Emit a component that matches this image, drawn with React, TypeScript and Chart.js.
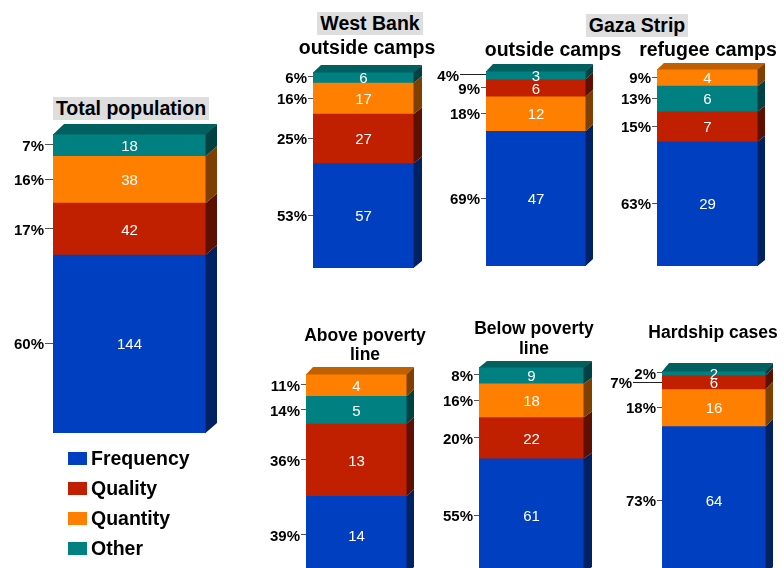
import React, { useEffect, useRef } from "react";
import { Chart, registerables } from "chart.js";

Chart.register(...registerables);

// ---------- data ----------
const seriesNames = ["Frequency", "Quality", "Quantity", "Other"];
// values in series order: Frequency, Quality, Quantity, Other
const totalPopulation = [144, 42, 38, 18];
const westBankOutsideCamps = [57, 27, 17, 6];
const gazaOutsideCamps = [47, 6, 12, 3];
const gazaRefugeeCamps = [29, 7, 4, 6];
const abovePovertyLine = [14, 13, 4, 5];
const belowPovertyLine = [61, 22, 18, 9];
const hardshipCases = [64, 6, 16, 2];

// ---------- styles ----------
const FRONT = ["#0040C0", "#C02000", "#FF8000", "#008080"];
const SIDE = ["#002262", "#5E1000", "#7E3F00", "#004242"];
const TOP = ["#0032A0", "#902000", "#C06000", "#006060"];
const FONT = "'Liberation Sans', Arial, Helvetica, sans-serif";

const W = 784;
const H = 568;
const CH = 600;

type Panel = {
  values: number[];
  left: number;
  right: number;
  top: number;
  bottom: number;
  dx: number;
  dy: number;
  tick: number;
  shift?: Record<number, number>;
};

const panels: Panel[] = [
  { values: totalPopulation, left: 53, right: 206, top: 134, bottom: 433, dx: 11, dy: 10, tick: 9 },
  { values: westBankOutsideCamps, left: 313, right: 414, top: 72, bottom: 268, dx: 8, dy: 7, tick: 6 },
  { values: gazaOutsideCamps, left: 486, right: 586, top: 71, bottom: 266, dx: 7, dy: 7, tick: 6, shift: { 3: 21 } },
  { values: gazaRefugeeCamps, left: 657, right: 758, top: 69, bottom: 266, dx: 7, dy: 6, tick: 6 },
  { values: abovePovertyLine, left: 306, right: 407, top: 374, bottom: 574, dx: 7, dy: 7, tick: 6 },
  { values: belowPovertyLine, left: 479, right: 584, top: 367, bottom: 573, dx: 8, dy: 6, tick: 6 },
  { values: hardshipCases, left: 662, right: 766, top: 371, bottom: 575, dx: 7, dy: 8, tick: 6, shift: { 1: 24 } },
];

type TitleLine = { text: string; cx: number; cy: number; size: number; bg?: boolean };
const titles: TitleLine[] = [
  { text: "Total population", cx: 131, cy: 108, size: 19.5, bg: true },
  { text: "West Bank", cx: 370, cy: 23, size: 19.5, bg: true },
  { text: "outside camps", cx: 367, cy: 47, size: 19.5 },
  { text: "Gaza Strip", cx: 637, cy: 25, size: 19.5, bg: true },
  { text: "outside camps", cx: 553, cy: 49, size: 19.5 },
  { text: "refugee camps", cx: 708, cy: 49, size: 19.5 },
  { text: "Above poverty", cx: 365, cy: 334.5, size: 17.5 },
  { text: "line", cx: 365, cy: 354, size: 17.5 },
  { text: "Below poverty", cx: 534, cy: 327.5, size: 17.5 },
  { text: "line", cx: 534, cy: 347.5, size: 17.5 },
  { text: "Hardship cases", cx: 713, cy: 331.5, size: 17.5 },
];

function sortedOrder(values: number[]): number[] {
  return values.map((_, i) => i).sort((a, b) => values[b] - values[a]);
}

function makeBar3d(panel: Panel, order: number[]) {
  return {
    id: "bar3d",
    afterDatasetsDraw(chart: any) {
      const ctx: CanvasRenderingContext2D = chart.ctx;
      const { dx, dy, tick } = panel;
      const shift = panel.shift || {};
      const total = panel.values.reduce((a, b) => a + b, 0);
      const n = chart.data.datasets.length;
      const boxes: any[] = [];
      ctx.save();
      for (let k = 0; k < n; k++) {
        const el = chart.getDatasetMeta(k).data[0];
        const p = el.getProps(["x", "y", "base", "width"], true);
        const left = p.x - p.width / 2;
        const right = p.x + p.width / 2;
        const top = Math.min(p.y, p.base);
        const bottom = Math.max(p.y, p.base);
        const s = order[k];
        boxes.push({ left, right, top, bottom, s });
        ctx.fillStyle = SIDE[s];
        ctx.beginPath();
        ctx.moveTo(right - 0.5, top);
        ctx.lineTo(right + dx, top - dy);
        ctx.lineTo(right + dx, bottom - dy);
        ctx.lineTo(right - 0.5, bottom);
        ctx.closePath();
        ctx.fill();
        if (k === n - 1) {
          ctx.fillStyle = TOP[s];
          ctx.beginPath();
          ctx.moveTo(left, top + 0.5);
          ctx.lineTo(left + dx, top - dy);
          ctx.lineTo(right + dx, top - dy);
          ctx.lineTo(right, top + 0.5);
          ctx.closePath();
          ctx.fill();
        }
      }
      // labels
      for (const b of boxes) {
        const cy = (b.top + b.bottom) / 2;
        const v = panel.values[b.s];
        ctx.fillStyle = "#ffffff";
        ctx.font = `15px ${FONT}`;
        ctx.textAlign = "center";
        ctx.textBaseline = "alphabetic";
        ctx.fillText(String(v), (b.left + b.right) / 2, cy + 5.4);

        const pct = Math.round((v / total) * 100) + "%";
        const off = shift[b.s] || 0;
        const tx = b.left - tick - off;
        ctx.fillStyle = "#000000";
        ctx.font = `bold 15px ${FONT}`;
        ctx.textAlign = "right";
        ctx.fillText(pct, tx, cy + 5.4);
        ctx.strokeStyle = off ? "#222222" : "#555555";
        ctx.lineWidth = 1;
        const ly = Math.round(cy) - 0.5;
        ctx.beginPath();
        ctx.moveTo(tx + 1, ly);
        ctx.lineTo(b.left, ly);
        ctx.stroke();
      }
      ctx.restore();
    },
  };
}

function PanelChart({ panel }: { panel: Panel }) {
  const ref = useRef<HTMLCanvasElement | null>(null);
  useEffect(() => {
    if (!ref.current) return;
    const order = sortedOrder(panel.values);
    const total = panel.values.reduce((a, b) => a + b, 0);
    const chart = new Chart(ref.current, {
      type: "bar",
      data: {
        labels: [""],
        datasets: order.map((i) => ({
          label: seriesNames[i],
          data: [panel.values[i]],
          backgroundColor: FRONT[i],
          borderWidth: 0,
          barPercentage: 1,
          categoryPercentage: 1,
        })),
      },
      options: {
        responsive: false,
        animation: false,
        events: [],
        layout: {
          padding: {
            left: panel.left,
            right: W - panel.right,
            top: panel.top,
            bottom: CH - panel.bottom,
          },
        },
        scales: {
          x: { display: false, stacked: true },
          y: { display: false, stacked: true, min: 0, max: total },
        },
        plugins: {
          legend: { display: false },
          tooltip: { enabled: false },
        },
      },
      plugins: [makeBar3d(panel, order)],
    } as any);
    return () => chart.destroy();
  }, [panel]);
  return (
    <canvas
      ref={ref}
      width={W}
      height={CH}
      style={{ position: "absolute", left: 0, top: 0, width: W, height: CH }}
    />
  );
}

export default function App() {
  return (
    <div
      style={{
        position: "absolute",
        left: 0,
        top: 0,
        width: W,
        height: H,
        overflow: "hidden",
        background: "#ffffff",
        fontFamily: FONT,
      }}
    >
      {panels.map((p, i) => (
        <PanelChart key={i} panel={p} />
      ))}
      {titles.map((t, i) => {
        const lh = 23;
        return (
          <div
            key={"t" + i}
            style={{
              position: "absolute",
              left: t.cx - 150,
              width: 300,
              top: t.cy - lh / 2 + 0.5,
              height: lh,
              textAlign: "center",
              lineHeight: lh + "px",
              fontSize: t.size,
              fontWeight: "bold",
              color: "#000",
              whiteSpace: "nowrap",
            }}
          >
            <span
              style={{
                display: "inline-block",
                background: t.bg ? "#dedede" : "transparent",
                padding: "0 3px",
                height: lh,
                lineHeight: lh + "px",
              }}
            >
              {t.text}
            </span>
          </div>
        );
      })}
      {seriesNames.map((name, i) => {
        const cy = 457.5 + i * 30.2;
        return (
          <div
            key={"l" + i}
            style={{ position: "absolute", left: 68, top: cy - 12, height: 24, whiteSpace: "nowrap" }}
          >
            <span
              style={{
                position: "absolute",
                left: 0,
                top: 6,
                width: 19,
                height: 13,
                background: FRONT[i],
              }}
            />
            <span
              style={{
                position: "absolute",
                left: 23,
                top: 0,
                lineHeight: "24px",
                fontSize: 19.5,
                fontWeight: "bold",
                color: "#000",
              }}
            >
              {name}
            </span>
          </div>
        );
      })}
    </div>
  );
}
